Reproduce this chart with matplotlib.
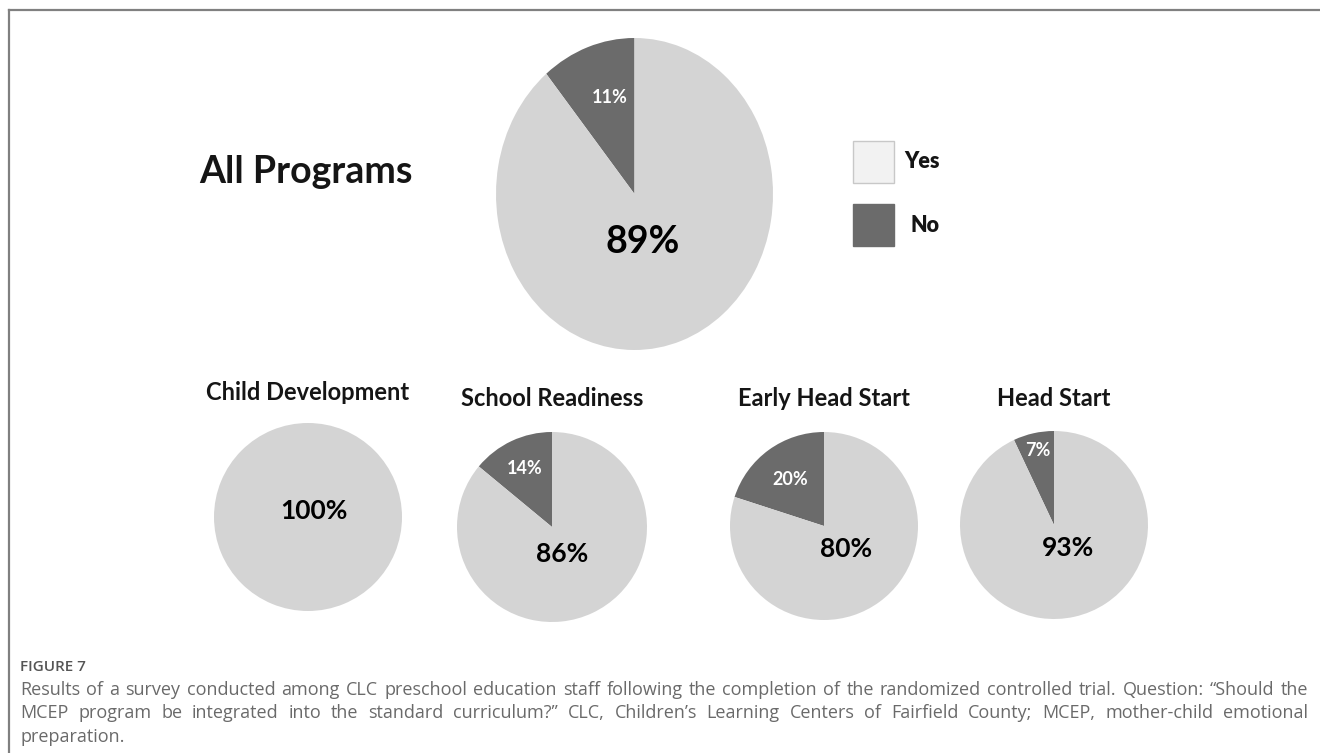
import matplotlib
matplotlib.use("Agg")
import matplotlib.pyplot as plt
from matplotlib.lines import Line2D

# survey answers per program (percent)
programs = ["All Programs", "Child Development", "School Readiness", "Early Head Start", "Head Start"]
yes_pct = [89, 100, 86, 80, 93]
no_pct = [11, 0, 14, 20, 7]
legend_labels = ["Yes", "No"]

caption_head = "FIGURE 7"
caption_lines = [
    "Results of a survey conducted among CLC preschool education staff following the completion of the randomized controlled trial. Question: \u201cShould the",
    "MCEP program be integrated into the standard curriculum?\u201d CLC, Children\u2019s Learning Centers of Fairfield County; MCEP, mother-child emotional",
    "preparation.",
]

YES_C = "#d4d4d4"
NO_C = "#6b6b6b"
FONT = "Lato"

W, H = 1320, 753
fig = plt.figure(figsize=(W / 100, H / 100), dpi=100)

# pie placement in pixels: centre x, centre y, radius x, radius y
pie_box = [(634.5, 194, 138.5, 156), (308, 517, 94, 94), (552, 527, 95, 95),
           (824, 526, 94, 94), (1054, 525, 94, 94)]
# label offsets in pie units (no label, yes label)
no_xy = [(-0.18, 0.62), None, (-0.29, 0.62), (-0.36, 0.50), (-0.17, 0.79)]
yes_xy = [(0.06, -0.31), (0.06, 0.06), (0.105, -0.28), (0.24, -0.24), (0.15, -0.25)]
sizes = [(13, 27), (None, 19), (13, 19), (13, 19), (13, 19)]
title_pos = [(306, 172), (308, 392), (552, 399), (824, 398), (1054, 398)]


def px_axes(cx, cy, rx, ry):
    return fig.add_axes([(cx - rx) / W, 1 - (cy + ry) / H, 2 * rx / W, 2 * ry / H])


for i, name in enumerate(programs):
    ax = px_axes(*pie_box[i])
    ax.pie([no_pct[i], yes_pct[i]], colors=[NO_C, YES_C], startangle=90,
           counterclock=True, radius=1, wedgeprops=dict(linewidth=0))
    ax.set_xlim(-1, 1)
    ax.set_ylim(-1, 1)
    ax.set_aspect("auto")
    ax.axis("off")
    if no_pct[i] > 0:
        ax.text(*no_xy[i], f"{no_pct[i]}%", color="white", fontsize=sizes[i][0],
                fontweight="bold", family=FONT, ha="center", va="center")
    ax.text(*yes_xy[i], f"{yes_pct[i]}%", color="black", fontsize=sizes[i][1],
            fontweight="bold", family=FONT, ha="center", va="center")
    tx, ty = title_pos[i]
    fig.text(tx / W, 1 - ty / H, name, fontsize=27 if i == 0 else 17,
             fontweight="bold", family=FONT, color="#151515", ha="center", va="center")

# legend swatches
for j, (lab, col) in enumerate(zip(legend_labels, ["#f2f2f2", NO_C])):
    y0 = 141 + j * 63
    fig.patches.append(plt.Rectangle((853 / W, 1 - (y0 + 42) / H), 41 / W, 42 / H,
                                     transform=fig.transFigure, facecolor=col,
                                     edgecolor="#c8c8c8" if j == 0 else col, linewidth=1))
    fig.text((904 if j == 0 else 910) / W, 1 - (y0 + 21) / H, lab, fontsize=15.5,
             fontweight="heavy", family=FONT, color="#151515", va="center")

# border lines
fig.add_artist(Line2D([9 / W, 1], [1 - 10 / H, 1 - 10 / H], transform=fig.transFigure,
                      color="#808080", lw=1.6))
fig.add_artist(Line2D([9 / W, 9 / W], [0, 1 - 10 / H], transform=fig.transFigure,
                      color="#808080", lw=1.6))

# caption
CAP_C = "#6a6a6a"
CAP_FS = 13
fig.text(20 / W, 1 - 667 / H, caption_head, fontsize=11, family="Open Sans",
         fontweight="semibold", color="#555555", va="center")

renderer = fig.canvas.get_renderer()
left, right = 20, 1308
for k, line in enumerate(caption_lines):
    y = 1 - (690 + k * 23.5) / H
    words = line.split(" ")
    if k == len(caption_lines) - 1:
        fig.text(left / W, y, line, fontsize=CAP_FS, family="Open Sans", color=CAP_C, va="center")
        continue
    arts = [fig.text(0, y, w, fontsize=CAP_FS, family="Open Sans", color=CAP_C, va="center")
            for w in words]
    widths = [a.get_window_extent(renderer).width for a in arts]
    gap = (right - left - sum(widths)) / (len(words) - 1)
    x = left
    for a, w in zip(arts, widths):
        a.set_x(x / W)
        x += w + gap

fig.savefig("out.png", dpi=100, facecolor="white")
